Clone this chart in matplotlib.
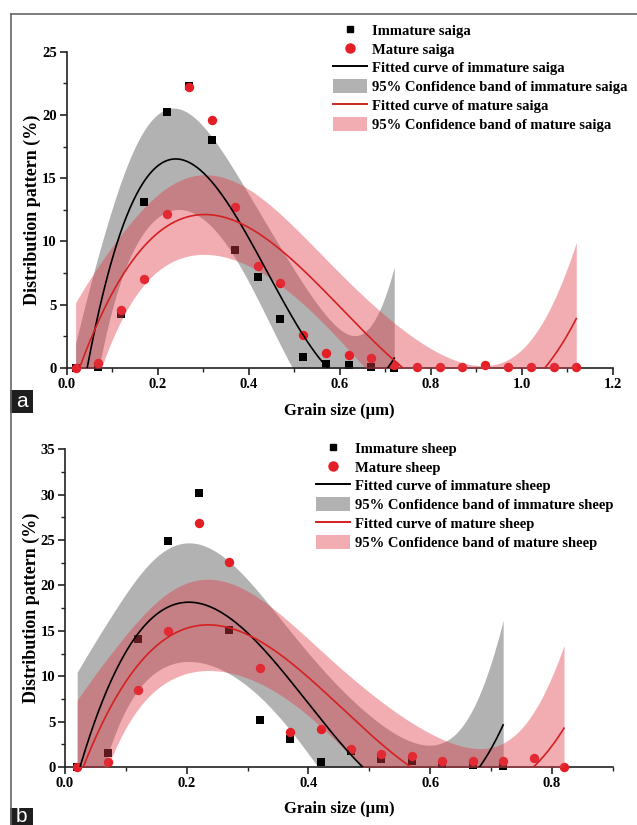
import numpy as np
import matplotlib
matplotlib.use("Agg")
import matplotlib.pyplot as plt
from matplotlib.lines import Line2D
from matplotlib.patches import Patch, Rectangle

# ---------------- data ----------------
# Panel a: saiga
saiga_imm_x = [0.02, 0.07, 0.12, 0.17, 0.22, 0.27, 0.32, 0.37, 0.42, 0.47, 0.52, 0.57, 0.62, 0.67, 0.72]
saiga_imm_y = [0.0, 0.1, 4.3, 13.1, 20.2, 22.3, 18.0, 9.3, 7.2, 3.85, 0.9, 0.3, 0.2, 0.1, 0.0]
saiga_mat_x = [0.02, 0.07, 0.12, 0.17, 0.22, 0.27, 0.32, 0.37, 0.42, 0.47, 0.52, 0.57, 0.62, 0.67, 0.72,
               0.77, 0.82, 0.87, 0.92, 0.97, 1.02, 1.07, 1.12]
saiga_mat_y = [0.0, 0.4, 4.6, 7.0, 12.2, 22.2, 19.6, 12.7, 8.1, 6.75, 2.6, 1.2, 1.0, 0.77, 0.25,
               0.05, 0.05, 0.1, 0.25, 0.05, 0.05, 0.1, 0.05]

# Panel b: sheep
sheep_imm_x = [0.02, 0.07, 0.12, 0.17, 0.22, 0.27, 0.32, 0.37, 0.42, 0.47, 0.52, 0.57, 0.62, 0.67, 0.72]
sheep_imm_y = [0.0, 1.5, 14.1, 24.9, 30.15, 15.1, 5.2, 3.1, 0.6, 1.8, 0.85, 0.7, 0.3, 0.2, 0.1]
sheep_mat_x = [0.02, 0.07, 0.12, 0.17, 0.22, 0.27, 0.32, 0.37, 0.42, 0.47, 0.52, 0.57, 0.62, 0.67, 0.72,
               0.77, 0.82]
sheep_mat_y = [0.0, 0.5, 8.5, 15.0, 26.9, 22.55, 10.95, 3.9, 4.2, 1.95, 1.43, 1.25, 0.7, 0.65, 0.65,
               0.95, 0.05]

saiga_labels = ["Immature saiga", "Mature saiga", "Fitted curve of immature saiga",
                "95% Confidence band of immature saiga", "Fitted curve of mature saiga",
                "95% Confidence band of mature saiga"]
sheep_labels = ["Immature sheep", "Mature sheep", "Fitted curve of immature sheep",
                "95% Confidence band of immature sheep", "Fitted curve of mature sheep",
                "95% Confidence band of mature sheep"]

x_label = "Grain size (\u03bcm)"
y_label = "Distribution pattern (%)"

# Student t (0.975) for cubic fits: df = n - 4
T975 = {11: 2.201, 13: 2.160, 19: 2.093}

# ---------------- style ----------------
plt.rcParams["font.family"] = ["Liberation Serif", "DejaVu Serif"]
plt.rcParams["font.weight"] = "bold"
plt.rcParams["axes.labelweight"] = "bold"

RED_PT = "#e31e24"
RED_LN = "#d42020"
GRAY_BAND = ("#808080", 0.6)
PINK_BAND = ("#e13c4b", 0.42)


def cubic_fit(x, y, n_pts=400):
    x = np.asarray(x, float)
    y = np.asarray(y, float)
    X = np.vander(x, 4)
    coef, *_ = np.linalg.lstsq(X, y, rcond=None)
    resid = y - X @ coef
    df = len(x) - 4
    s2 = resid @ resid / df
    cov = np.linalg.inv(X.T @ X)
    xs = np.linspace(x[0], x[-1], n_pts)
    Xs = np.vander(xs, 4)
    yhat = Xs @ coef
    se = np.sqrt(s2 * np.einsum("ij,jk,ik->i", Xs, cov, Xs))
    t = T975[df]
    return xs, yhat, yhat - t * se, yhat + t * se


W, H = 637, 825
fig = plt.figure(figsize=(W / 100, H / 100), dpi=100)


def px_ax(l, r, b, t):
    return fig.add_axes([l / W, 1 - b / H, (r - l) / W, (b - t) / H])


def panel(ax, ix, iy, mx, my, xmax, ymax, xmaj, labels, leg_xy):
    xs_i, f_i, lo_i, hi_i = cubic_fit(ix, iy)
    xs_m, f_m, lo_m, hi_m = cubic_fit(mx, my)
    ax.fill_between(xs_i, lo_i, hi_i, color=GRAY_BAND[0], alpha=GRAY_BAND[1], lw=0, zorder=1)
    ax.scatter(ix, iy, marker="s", s=36, color="black", zorder=2, clip_on=False, linewidths=0)
    ax.scatter(mx, my, marker="o", s=46, color=RED_PT, zorder=3, clip_on=False, linewidths=0)
    ax.fill_between(xs_m, lo_m, hi_m, color=PINK_BAND[0], alpha=PINK_BAND[1], lw=0, zorder=4)
    ax.plot(xs_i, f_i, color="black", lw=1.2, zorder=5)
    ax.plot(xs_m, f_m, color=RED_LN, lw=1.2, zorder=5)

    ax.set_xlim(0, xmax)
    ax.set_ylim(0, ymax)
    ax.set_xticks(np.arange(0, xmax + 1e-9, xmaj))
    ax.set_xticks(np.arange(0, xmax + 1e-9, xmaj / 2), minor=True)
    ax.set_yticks(np.arange(0, ymax + 1e-9, 5))
    ax.set_yticks(np.arange(0, ymax + 1e-9, 2.5), minor=True)
    ax.xaxis.set_major_formatter(matplotlib.ticker.FormatStrFormatter("%.1f"))
    for s in ("top", "right"):
        ax.spines[s].set_visible(False)
    for s in ("left", "bottom"):
        ax.spines[s].set_linewidth(1.2)
        ax.spines[s].set_color("#222222")
    ax.tick_params(which="major", direction="out", length=5, width=1.2, labelsize=10.5, pad=2,
                   color="#222222")
    ax.tick_params(which="minor", direction="out", length=3, width=1.0, color="#222222")
    for lab in ax.get_xticklabels() + ax.get_yticklabels():
        lab.set_fontweight("bold")
    ax.set_xlabel(x_label, fontsize=12, fontweight="bold")
    ax.set_ylabel(y_label, fontsize=13, fontweight="bold")

    handles = [
        Line2D([], [], ls="none", marker="s", ms=5, color="black"),
        Line2D([], [], ls="none", marker="o", ms=6.5, color=RED_PT),
        Line2D([], [], color="black", lw=1.4),
        Patch(facecolor=GRAY_BAND[0], alpha=GRAY_BAND[1], lw=0),
        Line2D([], [], color=RED_LN, lw=1.4),
        Patch(facecolor=PINK_BAND[0], alpha=PINK_BAND[1], lw=0),
    ]
    leg = ax.legend(handles, labels, loc="upper left",
                    bbox_to_anchor=(leg_xy[0] / W, 1 - leg_xy[1] / H),
                    bbox_transform=fig.transFigure, frameon=False, fontsize=10.5,
                    handlelength=2.35, handletextpad=0.35, labelspacing=0.26,
                    handleheight=1.1, borderpad=0, borderaxespad=0)
    for t in leg.get_texts():
        t.set_fontweight("bold")
    return ax


ax1 = px_ax(66.5, 612.7, 368, 51.7)
panel(ax1, saiga_imm_x, saiga_imm_y, saiga_mat_x, saiga_mat_y, 1.2, 25, 0.2, saiga_labels, (333, 23))
ax1.xaxis.set_label_coords(0.5, -0.111)
ax1.yaxis.set_label_coords(-0.046, 0.5)

ax2 = px_ax(65, 612.7, 767, 449.3)
panel(ax2, sheep_imm_x, sheep_imm_y, sheep_mat_x, sheep_mat_y, 0.9, 35, 0.2, sheep_labels, (316, 441))
ax2.xaxis.set_label_coords(0.5, -0.107)
ax2.yaxis.set_label_coords(-0.045, 0.5)

# outer frame (left and top edges)
fig.add_artist(Line2D([11 / W, 11 / W], [0, 1 - 14 / H], color="#666666", lw=1.2))
fig.add_artist(Line2D([11 / W, 1], [1 - 14 / H, 1 - 14 / H], color="#666666", lw=1.2))

# panel letters
for letter, top, bot in (("a", 390, 413), ("b", 808, 825)):
    fig.add_artist(Rectangle((10 / W, 1 - bot / H), 23 / W, (bot - top) / H,
                             transform=fig.transFigure, facecolor="#1e1e1e", edgecolor="none"))
    fig.text(21.5 / W, 1 - (top + bot) / 2 / H, letter, color="white", fontsize=15,
             family=["Liberation Sans", "DejaVu Sans"], fontweight="normal",
             ha="center", va="center")

fig.savefig("out.png", dpi=100)
